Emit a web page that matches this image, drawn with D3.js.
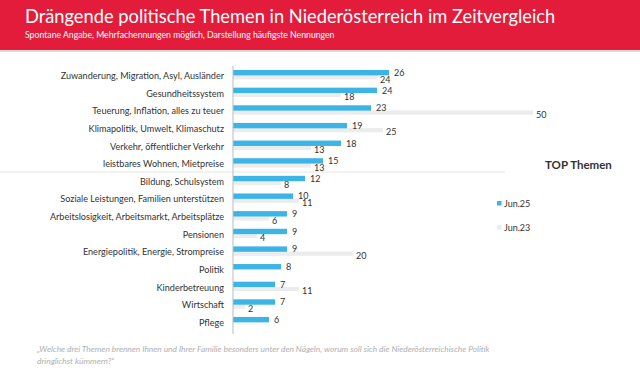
<!DOCTYPE html>
<html>
  <head>
    <meta charset="utf-8" />
    <script src="https://d3js.org/d3.v7.min.js" charset="utf-8"></script>
    <style>
      body { margin: 0; background: #fff; }
      svg { display: block; font-family: Lato, "Open Sans", sans-serif; }
    </style>
  </head>
  <body>
    <svg></svg>
    <script>
      const categories = [
        "Zuwanderung, Migration, Asyl, Ausländer",
        "Gesundheitssystem",
        "Teuerung, Inflation, alles zu teuer",
        "Klimapolitik, Umwelt, Klimaschutz",
        "Verkehr, öffentlicher Verkehr",
        "leistbares Wohnen, Mietpreise",
        "Bildung, Schulsystem",
        "Soziale Leistungen, Familien unterstützen",
        "Arbeitslosigkeit, Arbeitsmarkt, Arbeitsplätze",
        "Pensionen",
        "Energiepolitik, Energie, Strompreise",
        "Politik",
        "Kinderbetreuung",
        "Wirtschaft",
        "Pflege"
      ];
      const jun25 = [26, 24, 23, 19, 18, 15, 12, 10, 9, 9, 9, 8, 7, 7, 6];
      const jun23 = [24, 18, 50, 25, 13, 13, 8, 11, 6, 4, 20, null, 11, 2, null];
      const seriesNames = ["Jun.25", "Jun.23"];

      const W = 640, H = 386;
      const blue = "#3db4e6", grey = "#ececec";

      const svg = d3.select("svg").attr("width", W).attr("height", H);

      // header banner
      svg.append("rect").attr("x", 0).attr("y", 49).attr("width", W).attr("height", 3).attr("fill", "#d8d8d8");
      svg.append("rect").attr("x", 0).attr("y", 0).attr("width", W).attr("height", 50).attr("fill", "#e41c3b");
      svg.append("text").attr("x", 25).attr("y", 23).attr("fill", "#fff")
        .attr("font-size", 18.3).text("Drängende politische Themen in Niederösterreich im Zeitvergleich");
      svg.append("text").attr("x", 25).attr("y", 38).attr("fill", "#fff")
        .attr("font-size", 8.7).text("Spontane Angabe, Mehrfachennungen möglich, Darstellung häufigste Nennungen");

      const x = d3.scaleLinear().domain([0, 50]).range([233, 533]);
      const y = d3.scaleBand().domain(categories).range([66, 66 + 15 * 17.64]);

      // separator line and TOP Themen
      svg.append("line").attr("x1", 0).attr("x2", 505).attr("y1", 172).attr("y2", 172)
        .attr("stroke", "#e6e6e6").attr("stroke-width", 1);
      svg.append("text").attr("x", 545).attr("y", 169).attr("font-size", 11.5)
        .attr("font-weight", "bold").attr("fill", "#333").text("TOP Themen");

      const rows = categories.map((c, i) => ({ c, a: jun25[i], b: jun23[i] }));

      // category labels
      svg.append("g").selectAll("text").data(rows).enter().append("text")
        .attr("x", 224).attr("y", d => y(d.c) + 13)
        .attr("text-anchor", "end").attr("font-size", 9.1).attr("fill", "#333")
        .text(d => d.c);

      // Jun.23 bars
      svg.append("g").selectAll("rect").data(rows.filter(d => d.b != null)).enter().append("rect")
        .attr("x", x(0)).attr("y", d => y(d.c) + 9.2)
        .attr("width", d => x(d.b) - x(0)).attr("height", 4.2).attr("fill", grey);

      // Jun.25 bars
      svg.append("g").selectAll("rect").data(rows).enter().append("rect")
        .attr("x", x(0)).attr("y", d => y(d.c) + 4)
        .attr("width", d => x(d.a) - x(0)).attr("height", 5.4).attr("fill", blue);

      // axis line
      svg.append("line").attr("x1", x(0)).attr("x2", x(0)).attr("y1", 66).attr("y2", 334)
        .attr("stroke", "#bbb").attr("stroke-width", 1);

      // value labels
      svg.append("g").selectAll("text").data(rows).enter().append("text")
        .attr("x", d => x(d.a) + 5).attr("y", d => y(d.c) + 10)
        .attr("font-size", 9).attr("fill", "#333").text(d => d.a);
      svg.append("g").selectAll("text").data(rows.filter(d => d.b != null)).enter().append("text")
        .attr("x", d => x(d.b) + 3).attr("y", d => y(d.c) + 16.5)
        .attr("font-size", 9).attr("fill", "#333").text(d => d.b);

      // legend
      const legend = svg.append("g");
      [blue, grey].forEach((col, i) => {
        legend.append("rect").attr("x", 497).attr("y", 201 + i * 24).attr("width", 4.5).attr("height", 4.5).attr("fill", col);
        legend.append("text").attr("x", 504).attr("y", 207 + i * 24).attr("font-size", 9)
          .attr("fill", "#333").text(seriesNames[i]);
      });

      // footer question
      const foot = svg.append("text").attr("font-size", 8.4).attr("font-style", "italic").attr("fill", "#b0b0b0");
      foot.append("tspan").attr("x", 37).attr("y", 352)
        .text("„Welche drei Themen brennen Ihnen und Ihrer Familie besonders unter den Nägeln, worum soll sich die Niederösterreichische Politik");
      foot.append("tspan").attr("x", 37).attr("y", 364).text("dringlichst kümmern?“");
    </script>
  </body>
</html>
